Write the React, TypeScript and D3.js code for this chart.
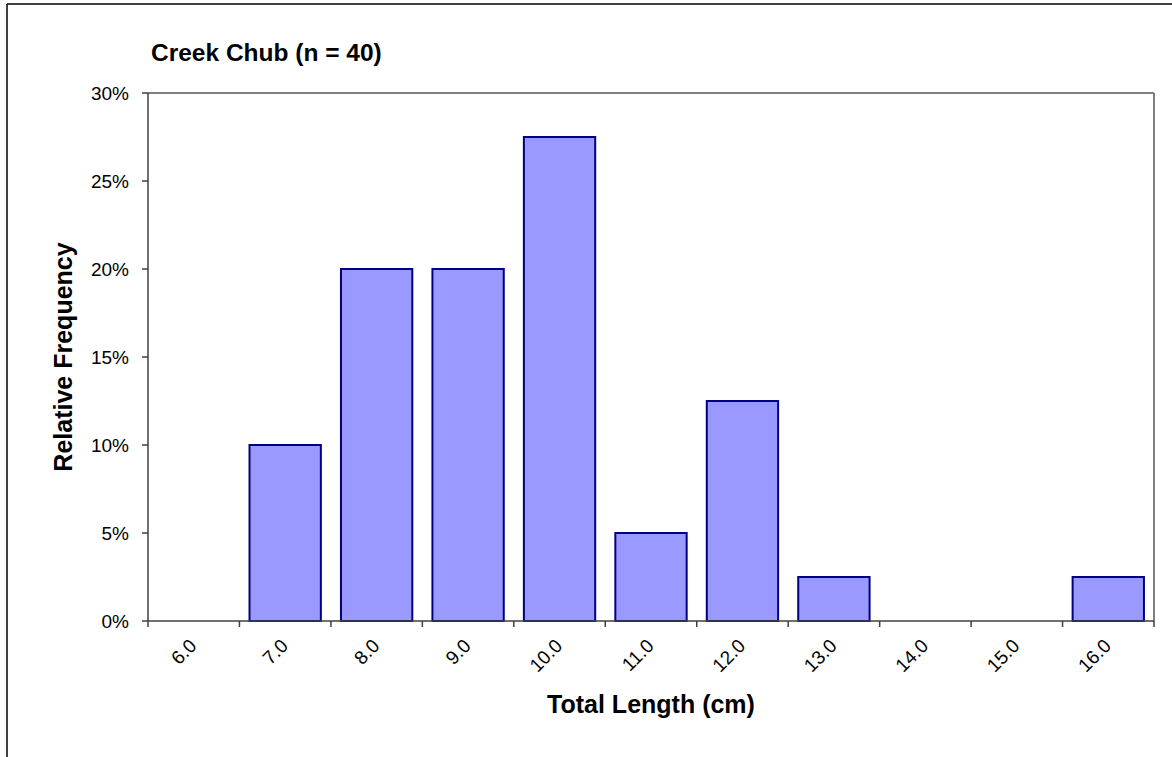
import React from "react";
import * as d3 from "d3";

const categories = ["6.0", "7.0", "8.0", "9.0", "10.0", "11.0", "12.0", "13.0", "14.0", "15.0", "16.0"];
const values = [0, 0.1, 0.2, 0.2, 0.275, 0.05, 0.125, 0.025, 0, 0, 0.025];
const yTicks = [0, 0.05, 0.1, 0.15, 0.2, 0.25, 0.3];
const title = "Creek Chub (n = 40)";
const xTitle = "Total Length (cm)";
const yTitle = "Relative Frequency";

export default function App() {
  const W = 1172, H = 757;
  const left = 148, right = 1154, top = 93, bottom = 621;
  const x = d3.scaleBand<string>().domain(categories).range([left, right]).paddingInner(0.22).paddingOuter(0.11);
  const xb = d3.scaleBand<string>().domain(categories).range([left, right]);
  const y = d3.scaleLinear().domain([0, 0.3]).range([bottom, top]);
  const fmt = d3.format(".0%");
  const font = "Arial, 'Liberation Sans', sans-serif";
  return (
    <svg width={W} height={H} style={{ position: "absolute", left: 0, top: 0 }} fontFamily={font}>
      <rect x={0} y={0} width={W} height={H} fill="#fff" />
      <line x1={7} y1={4} x2={W} y2={4} stroke="#000" strokeWidth={1.5} />
      <line x1={7} y1={4} x2={7} y2={H} stroke="#000" strokeWidth={1.5} />
      <text x={151} y={61} fontSize={24.5} fontWeight="bold">{title}</text>
      {/* plot frame gray top/right */}
      <line x1={left} y1={top} x2={right} y2={top} stroke="#808080" strokeWidth={2} />
      <line x1={right} y1={top} x2={right} y2={bottom} stroke="#808080" strokeWidth={2} />
      {values.map((v, i) => (
        v > 0 ? (
          <rect key={i} x={x(categories[i])} y={y(v)} width={x.bandwidth()} height={y(0) - y(v)}
            fill="#9999FF" stroke="#000080" strokeWidth={2} />
        ) : null
      ))}
      {/* y axis */}
      <line x1={left} y1={top} x2={left} y2={bottom} stroke="#404040" strokeWidth={1.5} />
      {yTicks.map((t) => (
        <g key={t}>
          <line x1={left - 6} x2={left} y1={y(t)} y2={y(t)} stroke="#404040" strokeWidth={1.5} />
          <text x={129} y={y(t)} dy="0.35em" textAnchor="end" fontSize={19}>{fmt(t)}</text>
        </g>
      ))}
      {/* x axis */}
      <line x1={left} y1={bottom} x2={right} y2={bottom} stroke="#404040" strokeWidth={1.5} />
      {[...categories.map((c) => xb(c) as number), right].map((px, i) => (
        <line key={i} x1={px} x2={px} y1={bottom} y2={bottom + 6} stroke="#404040" strokeWidth={1.5} />
      ))}
      {categories.map((c) => {
        const cx = (xb(c) as number) + xb.bandwidth() / 2 + 4;
        const cy = bottom + 26;
        return (
          <text key={c} x={cx} y={cy} textAnchor="end" fontSize={19}
            transform={`rotate(-45, ${cx}, ${cy})`}>{c}</text>
        );
      })}
      <text x={651} y={713} textAnchor="middle" fontSize={25} fontWeight="bold">{xTitle}</text>
      <text transform={`translate(72, ${(top + bottom) / 2}) rotate(-90)`} textAnchor="middle" fontSize={25} fontWeight="bold">{yTitle}</text>
    </svg>
  );
}
